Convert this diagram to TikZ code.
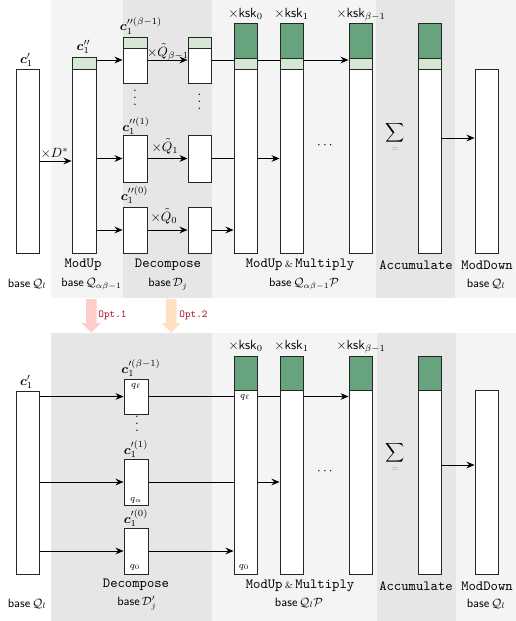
\documentclass[tikz,border=0pt]{standalone}
\usepackage{amsmath,bm}
\usetikzlibrary{arrows.meta,fit,calc}
\definecolor{dgreen}{HTML}{67A37C}
\definecolor{lgreen}{HTML}{D5E8D4}
\definecolor{bgl}{HTML}{F4F4F4}
\definecolor{bgd}{HTML}{E6E6E6}
\definecolor{optred}{HTML}{A51C30}
\definecolor{pinkA}{HTML}{FFCCCC}
\definecolor{peachA}{HTML}{FFE0C0}
\pgfdeclarelayer{bg}
\pgfdeclarelayer{lines}
\pgfsetlayers{bg,lines,main}
\newcommand{\bx}[4][colbox]{\node[#1, fit={(#3) (#4)}] (#2) {};}
\newcommand{\vdotsB}{\vbox{\baselineskip5.25pt\lineskiplimit0pt\hbox{.}\hbox{.}\hbox{.}}}
\tikzset{
  colbox/.style={draw=black!85, fill=white, line width=0.7pt, inner sep=0pt},
  gstrip/.style={draw=black!85, fill=dgreen, line width=0.7pt, inner sep=0pt},
  lstrip/.style={draw=black!85, fill=lgreen, line width=0.7pt, inner sep=0pt},
  arr/.style={-{Stealth[length=6pt,width=5pt]}, line width=0.7pt},
  lab/.style={inner sep=0pt, anchor=base},
  qlab/.style={inner sep=0pt, font=\scriptsize},
  optl/.style={inner sep=0pt, font=\ttfamily\footnotesize, text=optred},
  stage/.style={inner sep=0pt, font=\fontsize{10.5}{12}\selectfont\ttfamily},
  baselab/.style={inner sep=0pt, font=\sffamily\small},
  eqlab/.style={inner sep=0pt, font=\scriptsize, text=gray!70},
}
\begin{document}
\begin{tikzpicture}[x=0.75pt,y=-0.75pt]
\useasboundingbox (0,0) rectangle (516,621);
% backgrounds
\begin{pgfonlayer}{bg}
\fill[bgl] (51,0) rectangle (516,298);
\fill[bgd] (123,0) rectangle (212,298);
\fill[bgd] (376,0) rectangle (455,298);
\fill[bgl] (51,333) rectangle (516,621);
\fill[bgd] (51,333) rectangle (212,621);
\fill[bgd] (377,333) rectangle (456,621);
\end{pgfonlayer}

% ===== top half =====
\bx{a1}{16,69}{39,253}
\bx{mu}{72,57}{96,253}
\bx[lstrip]{mug}{72,57}{96,69}
\bx{d1}{123,37}{147,83}
\bx[lstrip]{d1g}{123,37}{147,48}
\bx{d2}{123,135}{147,182}
\bx{d3}{123,207}{147,253}
\bx{e1}{188,37}{211,83}
\bx[lstrip]{e1g}{188,37}{211,48}
\bx{e2}{188,135}{211,182}
\bx{e3}{188,207}{211,253}
\bx{k1}{234,23}{257,253}
\bx[gstrip]{k1g}{234,23}{257,58}
\bx[lstrip]{k1l}{234,58}{257,69}
\bx{k2}{280,23}{303,253}
\bx[gstrip]{k2g}{280,23}{303,58}
\bx[lstrip]{k2l}{280,58}{303,69}
\bx{k3}{349,23}{372,253}
\bx[gstrip]{k3g}{349,23}{372,58}
\bx[lstrip]{k3l}{349,58}{372,69}
\bx{ac}{418,23}{441,253}
\bx[gstrip]{acg}{418,23}{441,58}
\bx[lstrip]{acl}{418,58}{441,69}
\bx{md}{475,69}{498,253}

\begin{pgfonlayer}{lines}
\draw[arr] (a1.east |- 0,161) -- (mu.west |- 0,161);
\draw[arr] (mu.east |- d1) -- (d1.west);
\draw[arr] (d1.east) -- (e1.west);
\draw[arr] (e1.east) -- (k3.west |- e1);
\draw[arr] (mu.east |- d2) -- (d2.west);
\draw[arr] (d2.east) -- (e2.west);
\draw[arr] (e2.east) -- (k2.west |- e2);
\draw[arr] (mu.east |- d3) -- (d3.west);
\draw[arr] (d3.east) -- (e3.west);
\draw[arr] (e3.east) -- (k1.west |- e3);
\draw[arr] (ac.east |- 0,138) -- (md.west |- 0,138);
\end{pgfonlayer}

\node[lab] (t1) at (26.5,63) {$\bm{c}_1'$};
\node[lab] (t2) at (83.5,50) {$\bm{c}_1''$};
\node[lab] (t3) at (141,31) {$\bm{c}_1^{\prime\prime(\beta-1)}$};
\node[lab] (t4) at (136,131) {$\bm{c}_1^{\prime\prime(1)}$};
\node[lab] (t5) at (134.5,200) {$\bm{c}_1^{\prime\prime(0)}$};
\node[lab] (t6) at (54.5,157) {$\times D^{*}$};
\node[lab] (t7) at (168,56) {$\times\tilde{Q}_{\beta-1}$};
\node[lab] (t8) at (165,151) {$\times\tilde{Q}_{1}$};
\node[lab] (t9) at (164,221) {$\times\tilde{Q}_{0}$};
\node[lab] (t10) at (245.5,17) {$\times\mathsf{ksk}_0$};
\node[lab] (t11) at (291.5,17) {$\times\mathsf{ksk}_1$};
\node[lab] (t12) at (361,17) {$\times\mathsf{ksk}_{\beta-1}$};
\node[inner sep=0pt] (v1) at (135,98) {\vdotsB};
\node[inner sep=0pt] (v2) at (199.5,102) {\vdotsB};
\node[inner sep=0pt] (h1) at (326,146) {$\cdots$};
\node[inner sep=0pt] (s1) at (395,133) {$\displaystyle\sum$};
\node[eqlab] (s1e) at (395,150) {$=$};

\node[stage] (l1) at (83,265) {ModUp};
\node[stage] (l2) at (168,265) {Decompose};
\node[stage] (l3) at (300,265) {ModUp\,{\rmfamily\scriptsize\&}\,Multiply};
\node[stage] (l4) at (416,265) {Accumulate};
\node[stage] (l5) at (487,265) {ModDown};
\node[baselab] (b1) at (27,284) {base\,$\mathcal{Q}_l$};
\node[baselab] (b2) at (91.5,284) {base\,$\mathcal{Q}_{\alpha\beta-1}$};
\node[baselab] (b3) at (168,284) {base\,$\mathcal{D}_j$};
\node[baselab] (b4) at (304,284) {base\,$\mathcal{Q}_{\alpha\beta-1}\mathcal{P}$};
\node[baselab] (b5) at (486,284) {base\,$\mathcal{Q}_l$};

% ===== option arrows =====
\fill[pinkA] (86,299) -- (96.5,299) -- (96.5,323) -- (101,323) -- (91.25,332.5) -- (81.5,323) -- (86,323) -- cycle;
\fill[peachA] (166,299) -- (176.5,299) -- (176.5,323) -- (181,323) -- (171.25,332.5) -- (161.5,323) -- (166,323) -- cycle;
\node[optl] (o1) at (112.5,315) {Opt.1};
\node[optl] (o2) at (193.5,315) {Opt.2};

% ===== bottom half =====
\bx{p1}{16,391}{39,574}
\bx{f1}{124,379}{148,414}
\bx{f2}{124,459}{148,505}
\bx{f3}{124,528}{148,574}
\bx{m1}{234,356}{257,574}
\bx[gstrip]{m1g}{234,356}{257,390}
\bx{m2}{280,356}{303,574}
\bx[gstrip]{m2g}{280,356}{303,390}
\bx{m3}{349,356}{372,574}
\bx[gstrip]{m3g}{349,356}{372,390}
\bx{ac2}{418,356}{441,574}
\bx[gstrip]{ac2g}{418,356}{441,390}
\bx{md2}{475,390}{498,574}

\begin{pgfonlayer}{lines}
\draw[arr] (p1.east |- f1) -- (f1.west);
\draw[arr] (f1.east) -- (m3.west |- f1);
\draw[arr] (p1.east |- f2) -- (f2.west);
\draw[arr] (f2.east) -- (m2.west |- f2);
\draw[arr] (p1.east |- f3) -- (f3.west);
\draw[arr] (f3.east) -- (m1.west |- f3);
\draw[arr] (ac2.east |- 0,465) -- (md2.west |- 0,465);
\end{pgfonlayer}

\node[lab] (u1) at (26.5,385) {$\bm{c}_1'$};
\node[lab] (u2) at (141,373) {$\bm{c}_1^{\prime(\beta-1)}$};
\node[lab] (u3) at (136,454) {$\bm{c}_1^{\prime(1)}$};
\node[lab] (u4) at (136,523) {$\bm{c}_1^{\prime(0)}$};
\node[qlab] (q1) at (136,386) {$q_\ell$};
\node[qlab] (q2) at (136,500) {$q_\alpha$};
\node[qlab] (q3) at (135,567) {$q_0$};
\node[qlab] (q4) at (245,397) {$q_\ell$};
\node[qlab] (q5) at (244,567) {$q_0$};
\node[lab] (u10) at (245.5,349) {$\times\mathsf{ksk}_0$};
\node[lab] (u11) at (291.5,349) {$\times\mathsf{ksk}_1$};
\node[lab] (u12) at (361,349) {$\times\mathsf{ksk}_{\beta-1}$};
\node[inner sep=0pt] (v3) at (137,424) {\vdotsB};
\node[inner sep=0pt] (h2) at (326,472) {$\cdots$};
\node[inner sep=0pt] (s2) at (395,453) {$\displaystyle\sum$};
\node[eqlab] (s2e) at (395,470) {$=$};

\node[stage] (n2) at (136,585) {Decompose};
\node[stage] (n3) at (300,586) {ModUp\,{\rmfamily\scriptsize\&}\,Multiply};
\node[stage] (n4) at (416,586) {Accumulate};
\node[stage] (n5) at (487,586) {ModDown};
\node[baselab] (c1) at (27,604) {base\,$\mathcal{Q}_l$};
\node[baselab] (c2) at (137,603) {base\,$\mathcal{D}_j'$};
\node[baselab] (c3) at (299,603) {base\,$\mathcal{Q}_l\mathcal{P}$};
\node[baselab] (c4) at (486,604) {base\,$\mathcal{Q}_l$};
\end{tikzpicture}
\end{document}
